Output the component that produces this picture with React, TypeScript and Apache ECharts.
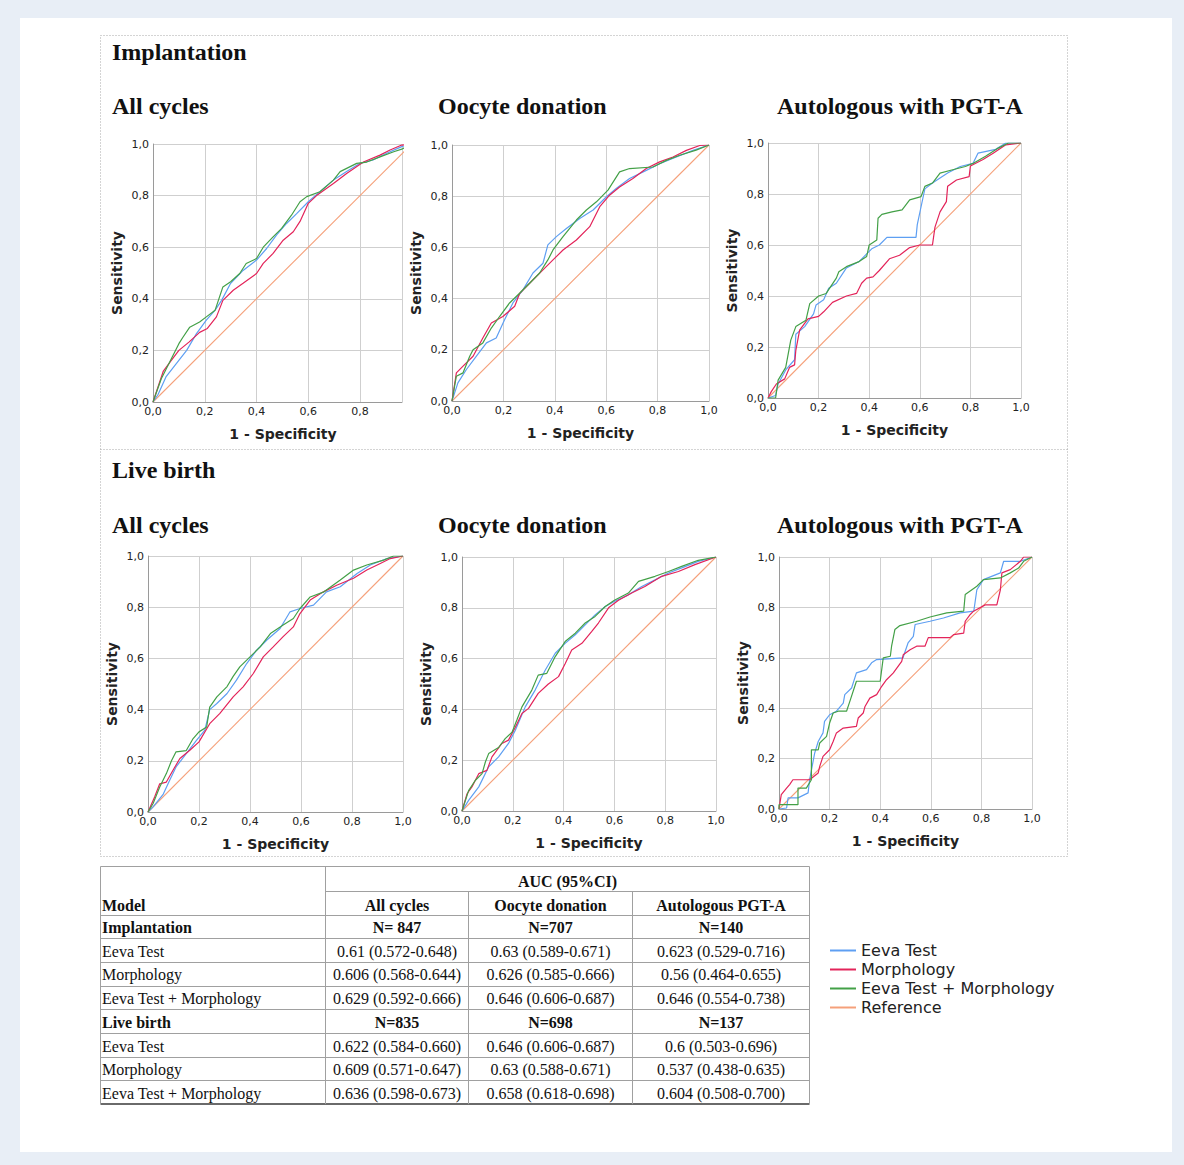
import React, { useEffect, useRef } from "react";
import * as echarts from "echarts";

// ---------- data ----------
const sectionTitles = ["Implantation", "Live birth"];
const panelTitles = ["All cycles", "Oocyte donation", "Autologous with PGT-A"];
const seriesNames = ["Eeva Test", "Morphology", "Eeva Test + Morphology", "Reference"];
const seriesColors = ["#5e9ff2", "#e3245a", "#43a047", "#f5a07a"];
const xAxisName = "1 - Specificity";
const yAxisName = "Sensitivity";

const refLine = [[0, 0], [1, 1]];

// Implantation – All cycles
const implAllEeva = [[0,0],[0.02,0.03],[0.05,0.097],[0.09,0.149],[0.13,0.2],[0.168,0.265],[0.206,0.317],[0.24,0.356],[0.265,0.394],[0.3,0.46],[0.348,0.51],[0.4,0.55],[0.439,0.595],[0.477,0.647],[0.516,0.692],[0.555,0.73],[0.6,0.776],[0.645,0.815],[0.697,0.86],[0.748,0.893],[0.8,0.925],[0.85,0.938],[0.903,0.964],[0.961,0.99],[1,1]];
const implAllMorph = [[0,0],[0.02,0.06],[0.04,0.12],[0.07,0.16],[0.1,0.2],[0.14,0.233],[0.18,0.27],[0.21,0.285],[0.245,0.33],[0.27,0.394],[0.31,0.433],[0.348,0.46],[0.4,0.498],[0.426,0.537],[0.464,0.576],[0.503,0.627],[0.542,0.66],[0.568,0.7],[0.6,0.77],[0.632,0.8],[0.697,0.847],[0.748,0.886],[0.813,0.93],[0.877,0.957],[0.916,0.977],[0.961,0.996],[1,1]];
const implAllCombo = [[0,0],[0.032,0.09],[0.1,0.226],[0.115,0.25],[0.142,0.29],[0.18,0.31],[0.206,0.33],[0.24,0.356],[0.27,0.446],[0.3,0.466],[0.335,0.498],[0.36,0.537],[0.4,0.556],[0.426,0.6],[0.464,0.64],[0.497,0.673],[0.535,0.724],[0.568,0.776],[0.594,0.796],[0.645,0.815],[0.697,0.86],[0.723,0.893],[0.787,0.925],[0.826,0.93],[0.877,0.95],[0.93,0.97],[0.961,0.98],[1,1]];

// Implantation – Oocyte donation
const implOocEeva = [[0,0],[0.023,0.071],[0.056,0.123],[0.095,0.175],[0.134,0.227],[0.172,0.246],[0.205,0.318],[0.237,0.383],[0.276,0.434],[0.315,0.5],[0.354,0.538],[0.373,0.61],[0.406,0.642],[0.445,0.674],[0.497,0.713],[0.549,0.746],[0.6,0.797],[0.639,0.83],[0.691,0.869],[0.756,0.901],[0.808,0.927],[0.873,0.953],[0.938,0.979],[1,1]];
const implOocMorph = [[0,0],[0.017,0.11],[0.043,0.136],[0.082,0.175],[0.12,0.246],[0.153,0.305],[0.198,0.33],[0.244,0.37],[0.263,0.42],[0.302,0.46],[0.354,0.512],[0.393,0.551],[0.432,0.59],[0.484,0.629],[0.536,0.681],[0.575,0.759],[0.613,0.804],[0.652,0.836],[0.704,0.869],[0.756,0.908],[0.808,0.934],[0.86,0.953],[0.912,0.979],[0.964,0.998],[1,1]];
const implOocCombo = [[0,0],[0.017,0.097],[0.043,0.11],[0.069,0.175],[0.082,0.2],[0.12,0.227],[0.153,0.285],[0.185,0.33],[0.224,0.383],[0.263,0.421],[0.302,0.46],[0.341,0.5],[0.373,0.551],[0.393,0.59],[0.432,0.642],[0.484,0.707],[0.523,0.746],[0.562,0.778],[0.607,0.824],[0.652,0.895],[0.691,0.908],[0.782,0.914],[0.834,0.94],[0.886,0.96],[0.95,0.98],[1,1]];

// Implantation – Autologous with PGT-A
const implPgtEeva = [[0,0],[0.03,0.01],[0.04,0.055],[0.07,0.11],[0.105,0.15],[0.11,0.25],[0.145,0.28],[0.18,0.33],[0.19,0.365],[0.22,0.385],[0.24,0.43],[0.27,0.45],[0.31,0.51],[0.36,0.535],[0.39,0.565],[0.41,0.585],[0.44,0.6],[0.47,0.63],[0.585,0.63],[0.59,0.68],[0.605,0.75],[0.62,0.82],[0.65,0.843],[0.71,0.882],[0.76,0.908],[0.81,0.92],[0.83,0.96],[0.9,0.975],[0.94,1],[1,1]];
const implPgtMorph = [[0,0],[0.013,0.025],[0.033,0.055],[0.066,0.075],[0.085,0.12],[0.105,0.13],[0.11,0.187],[0.125,0.266],[0.158,0.31],[0.2,0.32],[0.22,0.338],[0.255,0.375],[0.31,0.4],[0.35,0.41],[0.37,0.45],[0.39,0.47],[0.415,0.475],[0.44,0.5],[0.48,0.546],[0.52,0.56],[0.56,0.59],[0.6,0.6],[0.65,0.6],[0.66,0.67],[0.68,0.73],[0.705,0.77],[0.71,0.83],[0.745,0.855],[0.795,0.868],[0.8,0.91],[0.85,0.935],[0.89,0.96],[0.94,0.993],[1,1]];
const implPgtCombo = [[0,0],[0.03,0],[0.04,0.07],[0.07,0.12],[0.09,0.227],[0.11,0.28],[0.15,0.305],[0.165,0.37],[0.2,0.4],[0.23,0.41],[0.27,0.47],[0.28,0.495],[0.31,0.515],[0.36,0.535],[0.39,0.555],[0.4,0.6],[0.43,0.62],[0.435,0.705],[0.45,0.72],[0.49,0.73],[0.53,0.738],[0.56,0.777],[0.605,0.79],[0.62,0.83],[0.65,0.843],[0.68,0.882],[0.73,0.895],[0.78,0.908],[0.81,0.92],[0.86,0.948],[0.91,0.98],[0.95,1],[1,1]];

// Live birth – All cycles
const lbAllEeva = [[0,0],[0.02,0.02],[0.06,0.07],[0.085,0.124],[0.11,0.176],[0.15,0.228],[0.19,0.28],[0.223,0.32],[0.242,0.4],[0.27,0.424],[0.31,0.463],[0.347,0.515],[0.387,0.58],[0.426,0.632],[0.465,0.671],[0.518,0.717],[0.557,0.782],[0.596,0.795],[0.649,0.808],[0.7,0.86],[0.754,0.88],[0.82,0.932],[0.872,0.965],[0.937,0.99],[1,1]];
const lbAllMorph = [[0,0],[0.026,0.059],[0.046,0.11],[0.072,0.117],[0.098,0.163],[0.125,0.209],[0.164,0.241],[0.2,0.274],[0.242,0.345],[0.282,0.385],[0.334,0.45],[0.373,0.489],[0.413,0.541],[0.452,0.606],[0.491,0.645],[0.53,0.685],[0.57,0.723],[0.596,0.775],[0.636,0.828],[0.688,0.86],[0.74,0.886],[0.806,0.913],[0.858,0.945],[0.911,0.971],[0.95,0.99],[1,1]];
const lbAllCombo = [[0,0],[0.02,0.033],[0.046,0.098],[0.072,0.15],[0.092,0.2],[0.11,0.235],[0.15,0.24],[0.177,0.287],[0.2,0.313],[0.23,0.332],[0.242,0.41],[0.27,0.45],[0.31,0.49],[0.334,0.53],[0.36,0.567],[0.4,0.606],[0.44,0.645],[0.48,0.697],[0.53,0.73],[0.57,0.756],[0.596,0.795],[0.636,0.84],[0.69,0.86],[0.754,0.906],[0.806,0.945],[0.858,0.965],[0.924,0.984],[0.963,1],[1,1]];

// Live birth – Oocyte donation
const lbOocEeva = [[0,0],[0.026,0.042],[0.066,0.095],[0.105,0.174],[0.144,0.213],[0.183,0.266],[0.21,0.318],[0.249,0.41],[0.288,0.476],[0.328,0.555],[0.367,0.621],[0.406,0.66],[0.446,0.694],[0.485,0.733],[0.524,0.772],[0.564,0.805],[0.6,0.825],[0.655,0.851],[0.708,0.884],[0.76,0.91],[0.813,0.937],[0.865,0.957],[0.93,0.983],[1,1]];
const lbOocMorph = [[0,0],[0.02,0.068],[0.039,0.095],[0.066,0.147],[0.098,0.16],[0.118,0.213],[0.157,0.266],[0.183,0.279],[0.21,0.33],[0.236,0.384],[0.262,0.404],[0.3,0.463],[0.34,0.5],[0.38,0.529],[0.406,0.58],[0.432,0.634],[0.472,0.66],[0.511,0.707],[0.537,0.74],[0.577,0.8],[0.616,0.83],[0.668,0.858],[0.72,0.884],[0.786,0.924],[0.852,0.943],[0.917,0.97],[1,1]];
const lbOocCombo = [[0,0],[0.026,0.08],[0.052,0.12],[0.079,0.147],[0.092,0.193],[0.105,0.226],[0.144,0.25],[0.17,0.285],[0.197,0.31],[0.216,0.358],[0.236,0.41],[0.275,0.476],[0.3,0.535],[0.334,0.542],[0.367,0.608],[0.406,0.667],[0.446,0.7],[0.485,0.74],[0.524,0.766],[0.564,0.805],[0.6,0.83],[0.655,0.858],[0.695,0.904],[0.76,0.924],[0.813,0.943],[0.865,0.963],[0.93,0.987],[1,1]];

// Live birth – Autologous with PGT-A
const lbPgtEeva = [[0,0],[0.03,0.004],[0.036,0.044],[0.075,0.044],[0.115,0.064],[0.121,0.116],[0.141,0.222],[0.155,0.268],[0.174,0.302],[0.18,0.348],[0.2,0.374],[0.227,0.388],[0.254,0.42],[0.26,0.454],[0.287,0.48],[0.306,0.54],[0.346,0.553],[0.366,0.58],[0.386,0.593],[0.49,0.6],[0.51,0.659],[0.531,0.685],[0.538,0.732],[0.597,0.745],[0.65,0.758],[0.716,0.778],[0.77,0.785],[0.782,0.87],[0.808,0.91],[0.875,0.937],[0.888,0.983],[0.954,0.983],[1,1]];
const lbPgtMorph = [[0,0],[0.009,0.057],[0.03,0.083],[0.042,0.097],[0.055,0.116],[0.121,0.116],[0.155,0.143],[0.161,0.169],[0.174,0.209],[0.2,0.235],[0.214,0.268],[0.227,0.302],[0.254,0.321],[0.306,0.328],[0.313,0.361],[0.333,0.381],[0.34,0.407],[0.359,0.44],[0.386,0.454],[0.406,0.487],[0.425,0.513],[0.452,0.54],[0.485,0.586],[0.491,0.612],[0.518,0.632],[0.544,0.646],[0.577,0.646],[0.59,0.68],[0.676,0.68],[0.69,0.692],[0.73,0.698],[0.736,0.745],[0.756,0.772],[0.769,0.785],[0.815,0.81],[0.861,0.81],[0.875,0.87],[0.881,0.937],[0.914,0.95],[0.954,0.983],[0.967,1],[1,1]];
const lbPgtCombo = [[0,0],[0,0.017],[0.075,0.017],[0.075,0.083],[0.108,0.083],[0.128,0.116],[0.128,0.235],[0.155,0.235],[0.161,0.262],[0.188,0.288],[0.2,0.341],[0.214,0.381],[0.234,0.388],[0.267,0.388],[0.28,0.427],[0.306,0.507],[0.4,0.507],[0.412,0.6],[0.44,0.606],[0.445,0.646],[0.458,0.712],[0.478,0.728],[0.544,0.745],[0.597,0.762],[0.663,0.778],[0.73,0.785],[0.736,0.851],[0.782,0.884],[0.808,0.91],[0.875,0.917],[0.914,0.937],[0.947,0.956],[0.967,0.983],[1,1]];

// Table
const tableHeader = "AUC (95%CI)";
const tableModelHeader = "Model";
const tableColHeaders = ["All cycles", "Oocyte donation", "Autologous PGT-A"];
const tableRowLabels = ["Implantation", "Eeva Test", "Morphology", "Eeva Test + Morphology", "Live birth", "Eeva Test", "Morphology", "Eeva Test + Morphology"];
const tableBoldRows = [true, false, false, false, true, false, false, false];
const tableAllCycles = ["N= 847", "0.61 (0.572-0.648)", "0.606 (0.568-0.644)", "0.629 (0.592-0.666)", "N=835", "0.622 (0.584-0.660)", "0.609 (0.571-0.647)", "0.636 (0.598-0.673)"];
const tableOocyte = ["N=707", "0.63 (0.589-0.671)", "0.626 (0.585-0.666)", "0.646 (0.606-0.687)", "N=698", "0.646 (0.606-0.687)", "0.63 (0.588-0.671)", "0.658 (0.618-0.698)"];
const tableAutologous = ["N=140", "0.623 (0.529-0.716)", "0.56 (0.464-0.655)", "0.646 (0.554-0.738)", "N=137", "0.6 (0.503-0.696)", "0.537 (0.438-0.635)", "0.604 (0.508-0.700)"];

// ---------- layout ----------
const SERIF = '"Liberation Serif", "Times New Roman", serif';
const SANS = '"DejaVu Sans", "Verdana", sans-serif';

const panels = [
  { grid: { left: 153, top: 144, width: 249, height: 258 }, xMax: 0.962, namePad: 11, curves: [implAllEeva, implAllMorph, implAllCombo] },
  { grid: { left: 452, top: 145, width: 257, height: 256 }, xMax: 1, namePad: 0, curves: [implOocEeva, implOocMorph, implOocCombo] },
  { grid: { left: 768, top: 143, width: 253, height: 255 }, xMax: 1, namePad: 0, curves: [implPgtEeva, implPgtMorph, implPgtCombo] },
  { grid: { left: 148, top: 556, width: 255, height: 256 }, xMax: 1, namePad: 0, curves: [lbAllEeva, lbAllMorph, lbAllCombo] },
  { grid: { left: 462, top: 557, width: 254, height: 254 }, xMax: 1, namePad: 0, curves: [lbOocEeva, lbOocMorph, lbOocCombo] },
  { grid: { left: 779, top: 557, width: 253, height: 252 }, xMax: 1, namePad: 0, curves: [lbPgtEeva, lbPgtMorph, lbPgtCombo] },
];

const tickFmt = (v: number) => {
  const k = v / 0.2;
  return Math.abs(k - Math.round(k)) < 1e-6 ? v.toFixed(1).replace(".", ",") : "";
};

function txt(text: string, x: number, y: number, font: string, align = "left") {
  return {
    type: "text",
    z: 5,
    style: { text, x, y, font, fill: "#111", textAlign: align, textVerticalAlign: "middle" },
  };
}
function hline(x1: number, x2: number, y: number, color = "#a0a0a0", w = 1) {
  return { type: "line", z: 5, shape: { x1, y1: y, x2, y2: y }, style: { stroke: color, lineWidth: w } };
}
function vline(x: number, y1: number, y2: number, color = "#a0a0a0", w = 1) {
  return { type: "line", z: 5, shape: { x1: x, y1, x2: x, y2 }, style: { stroke: color, lineWidth: w } };
}

function buildOption() {
  const grids: any[] = [];
  const xAxes: any[] = [];
  const yAxes: any[] = [];
  const series: any[] = [];
  const axisLabel = { formatter: tickFmt, color: "#222", fontSize: 11, fontFamily: SANS, margin: 4 };
  const nameStyle = { fontFamily: SANS, fontSize: 14, fontWeight: "bold", color: "#222" };
  panels.forEach((p, i) => {
    grids.push({ ...p.grid, containLabel: false });
    xAxes.push({
      gridIndex: i, type: "value", min: 0, max: p.xMax, interval: 0.2,
      axisLine: { show: true, onZero: false, lineStyle: { color: "#9a9a9a" } },
      axisTick: { show: false }, axisLabel,
      splitLine: { show: true, lineStyle: { color: "#cfcfcf", width: 1 } },
      name: xAxisName, nameLocation: "middle", nameGap: 25,
      nameTextStyle: { ...nameStyle, padding: [0, 0, 0, p.namePad] },
    });
    yAxes.push({
      gridIndex: i, type: "value", min: 0, max: 1, interval: 0.2,
      axisLine: { show: true, onZero: false, lineStyle: { color: "#9a9a9a" } },
      axisTick: { show: false }, axisLabel,
      splitLine: { show: true, lineStyle: { color: "#cfcfcf", width: 1 } },
      name: yAxisName, nameLocation: "middle", nameGap: 29, nameTextStyle: nameStyle,
    });
    p.curves.forEach((c, k) => {
      series.push({
        id: "c" + i + "_" + k,
        type: "line", name: seriesNames[k], xAxisIndex: i, yAxisIndex: i, data: c,
        color: seriesColors[k], symbol: "none", showSymbol: false,
        lineStyle: { color: seriesColors[k], width: 1.2 }, itemStyle: { color: seriesColors[k] }, z: 3 + (k === 2 ? 1 : 0),
      });
    });
    series.push({
      id: "ref" + i,
      type: "line", name: seriesNames[3], xAxisIndex: i, yAxisIndex: i,
      data: refLine.map((pt) => [pt[0], pt[1]]),
      color: seriesColors[3], symbol: "none", showSymbol: false,
      lineStyle: { color: seriesColors[3], width: 1.1, opacity: 1 }, itemStyle: { color: seriesColors[3] }, z: 2,
    });
  });

  const g: any[] = [];
  g.push({ type: "rect", z: -10, shape: { x: 20, y: 18, width: 1152, height: 1134 }, style: { fill: "#ffffff" } });
  g.push({ type: "rect", z: 1, shape: { x: 100.5, y: 35.5, width: 967, height: 821 }, style: { fill: "none", stroke: "#a8a8a8", lineWidth: 1, lineDash: [1, 2] } });
  g.push({ type: "line", z: 1, shape: { x1: 100.5, y1: 449.5, x2: 1067.5, y2: 449.5 }, style: { stroke: "#a8a8a8", lineWidth: 1, lineDash: [1, 2] } });

  const titleFont = `bold 24px ${SERIF}`;
  g.push(txt(sectionTitles[0], 112, 52, titleFont));
  g.push(txt(sectionTitles[1], 112, 470, titleFont));
  const titleX = [112, 438, 777];
  panelTitles.forEach((t, k) => {
    g.push(txt(t, titleX[k], 106, titleFont));
    g.push(txt(t, titleX[k], 525, titleFont));
  });

  // table
  const colX = [100.5, 325.5, 468.5, 632.5, 809.5];
  const tTop = 866.5, tHead = 891.5, rowTop = 914.5, rowH = 23.7;
  const nRows = tableRowLabels.length;
  const tBottom = rowTop + nRows * rowH;
  g.push(hline(colX[0], colX[4], tTop));
  g.push(hline(colX[1], colX[4], tHead));
  for (let r = 0; r < nRows; r++) g.push(hline(colX[0], colX[4], Math.round(rowTop + r * rowH) + 0.5));
  g.push(hline(colX[0], colX[4], tBottom, "#6a6a6a", 2));
  g.push(vline(colX[0], tTop, tBottom));
  g.push(vline(colX[1], tTop, tBottom));
  g.push(vline(colX[2], tHead, tBottom));
  g.push(vline(colX[3], tHead, tBottom));
  g.push(vline(colX[4], tTop, tBottom));
  const bold = `bold 16px ${SERIF}`;
  const reg = `16px ${SERIF}`;
  g.push(txt(tableHeader, (colX[1] + colX[4]) / 2, 881, bold, "center"));
  g.push(txt(tableModelHeader, 102, 905, bold));
  const centers = [(colX[1] + colX[2]) / 2, (colX[2] + colX[3]) / 2, (colX[3] + colX[4]) / 2];
  tableColHeaders.forEach((h, k) => g.push(txt(h, centers[k], 905, bold, "center")));
  const cols = [tableAllCycles, tableOocyte, tableAutologous];
  tableRowLabels.forEach((lab, r) => {
    const y = rowTop + r * rowH + 13;
    const f = tableBoldRows[r] ? bold : reg;
    g.push(txt(lab, 102, y, f));
    cols.forEach((col, k) => g.push(txt(col[r], centers[k], y, f, "center")));
  });

  return {
    animation: false,
    backgroundColor: "#e8eef6",
    grid: grids,
    xAxis: xAxes,
    yAxis: yAxes,
    series,
    legend: {
      orient: "vertical", left: 830, top: 941, padding: 0, itemWidth: 26, itemHeight: 2, itemGap: 0,
      icon: "rect", selectedMode: false, data: seriesNames,
      textStyle: { fontFamily: SANS, fontSize: 16, color: "#222", lineHeight: 19 },
    },
    graphic: { elements: g },
  };
}

export default function App() {
  const ref = useRef<HTMLDivElement>(null);
  useEffect(() => {
    if (!ref.current) return;
    const chart = echarts.init(ref.current, undefined, { renderer: "svg" });
    chart.setOption(buildOption() as any);
    return () => chart.dispose();
  }, []);
  return <div ref={ref} style={{ position: "absolute", left: 0, top: 0, width: 1184, height: 1165 }} />;
}
